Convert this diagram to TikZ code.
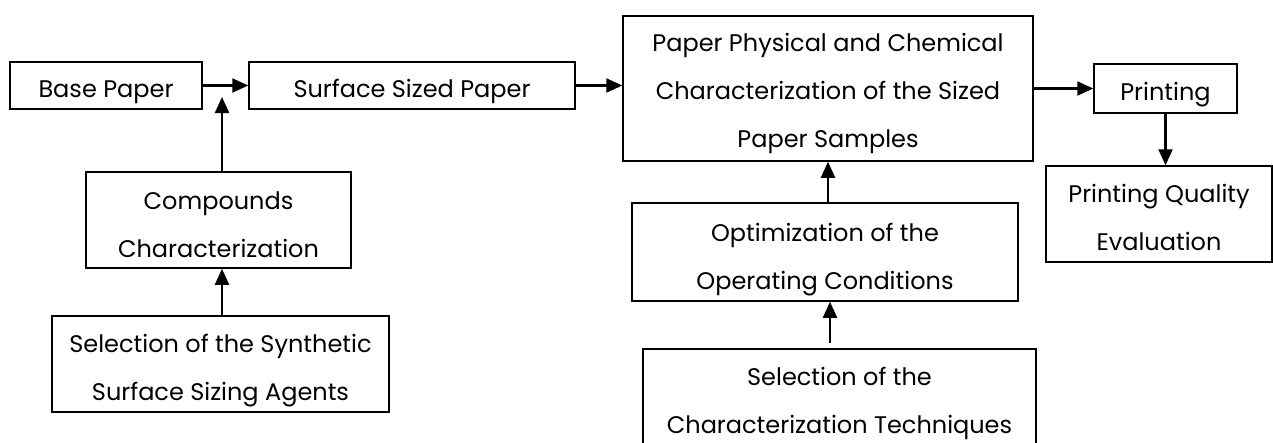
\documentclass[tikz,border=0pt]{standalone}
\usepackage{fontspec}
\setmainfont{Poppins}
\usetikzlibrary{arrows.meta,calc}

\tikzset{
  stepbox/.style={draw=black, line width=1.5pt, fill=white, rectangle,
    align=center, inner sep=0pt, text depth=0pt,
    font=\fontsize{24}{48}\selectfont},
  % distance (doubled) from the box centre down to the last baseline
  lastbase/.style={text height=#1},
  flow/.style={line width=2.2pt, -{Triangle[length=16pt,width=14pt]}}
}

\begin{document}
\begin{tikzpicture}[x=1pt,y=-1pt]
  \clip (0,0) rectangle (1273,442);
  \fill[white] (0,0) rectangle (1273,442);

  % top row
  \node[stepbox, lastbase=23pt, minimum width=192pt, minimum height=47pt] (base) at (106,85.5) {Base Paper};
  \node[stepbox, lastbase=23pt, minimum width=326pt, minimum height=47pt] (surf) at (412,85.5) {Surface Sized Paper};
  \node[stepbox, lastbase=117pt, minimum width=410pt, minimum height=145pt] (char) at (828,88.5)
    {Paper Physical and Chemical\\Characterization of the Sized\\Paper Samples};
  \node[stepbox, lastbase=23pt, minimum width=143pt, minimum height=49pt] (print) at (1165.5,88.5) {Printing};
  \node[stepbox, lastbase=72pt, minimum width=226pt, minimum height=96pt] (qual) at (1159,214)
    {Printing Quality\\Evaluation};

  % left column
  \node[stepbox, lastbase=74pt, minimum width=265pt, minimum height=96pt] (comp) at (218.5,220)
    {Compounds\\Characterization};
  \node[stepbox, lastbase=72pt, minimum width=337pt, minimum height=96pt] (agents) at (220.5,364)
    {Selection of the Synthetic\\Surface Sizing Agents};

  % middle column
  \node[stepbox, lastbase=74pt, minimum width=386pt, minimum height=98pt] (optim) at (825,252)
    {Optimization of the\\Operating Conditions};
  \node[stepbox, lastbase=72pt, minimum width=393pt, minimum height=96pt] (tech) at (839.5,397)
    {Selection of the\\Characterization Techniques};

  % connectors
  \coordinate (join) at (222,97);
  \draw[flow] (base.east) -- (surf.west);
  \draw[flow] (surf.east) -- (surf.east -| char.west);
  \draw[flow] (print.west -| char.east) -- (print.west);
  \draw[flow] (print.south) -- (print.south |- qual.north);
  \draw[flow] (join |- comp.north) -- (join);
  \draw[flow] (join |- agents.north) -- (join |- comp.south);
  \draw[flow] (char.south |- optim.north) -- (char.south);
  \draw[flow, shorten <=5pt] ([xshift=5pt]optim.south |- tech.north) -- ([xshift=5pt]optim.south);
\end{tikzpicture}
\end{document}
